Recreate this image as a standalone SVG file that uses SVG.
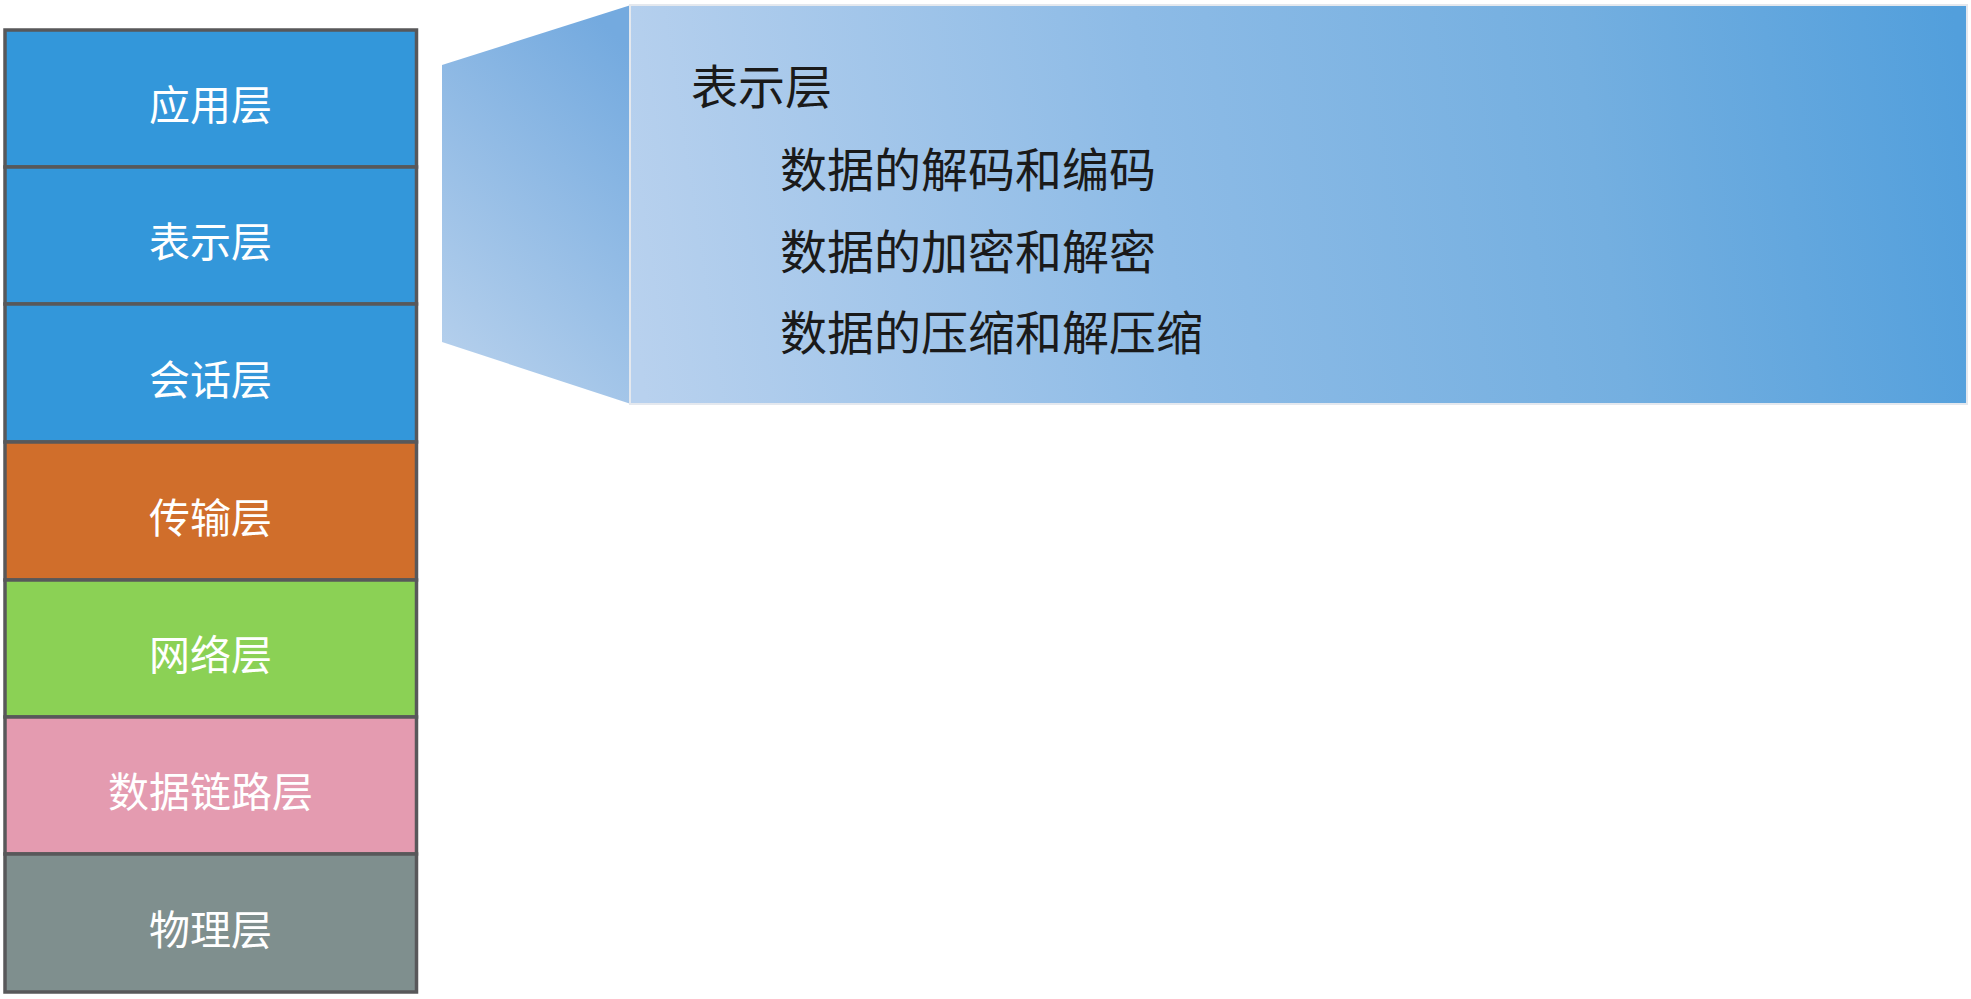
<svg xmlns="http://www.w3.org/2000/svg" width="1971" height="999" viewBox="0 0 1971 999">
<style>
.layer{stroke:#58585a;stroke-width:3.5}
.lbl{font-family:"Liberation Sans","Noto Sans CJK SC",sans-serif;font-size:41px;fill:#ffffff;text-anchor:middle}
.ct{font-family:"Liberation Sans","Noto Sans CJK SC",sans-serif;font-size:47px;fill:#1a1a1a}
</style>
<defs>
<linearGradient id="gBox" gradientUnits="userSpaceOnUse" x1="630" y1="300" x2="1967" y2="100">
<stop offset="0" stop-color="#b8d1ee"/>
<stop offset="0.4" stop-color="#8dbbe6"/>
<stop offset="0.72" stop-color="#74afe0"/>
<stop offset="1" stop-color="#529fdc"/>
</linearGradient>
<linearGradient id="gSide" x1="0.75" y1="0" x2="0.3" y2="1">
<stop offset="0" stop-color="#74aadf"/>
<stop offset="1" stop-color="#b4cfec"/>
</linearGradient>
</defs>
<rect width="1971" height="999" fill="#ffffff"/>
<g id="connectors">
<polygon points="442,65 631,5 631,404 442,342" fill="url(#gSide)"/>
</g>
<g id="presentation-detail">
<rect x="630" y="5" width="1337" height="399" fill="url(#gBox)" stroke="#e4e8ee" stroke-width="2"/>
<text class="ct" x="691" y="104">表示层</text>
<text class="ct" x="780" y="187">数据的解码和编码</text>
<text class="ct" x="780" y="269">数据的加密和解密</text>
<text class="ct" x="780" y="350">数据的压缩和解压缩</text>
</g>
<g id="application">
<rect class="layer" x="5" y="30" width="411.5" height="137" fill="#3397da"/>
<text class="lbl" x="210.5" y="120">应用层</text>
</g>
<g id="presentation">
<rect class="layer" x="5" y="167" width="411.5" height="137" fill="#3397da"/>
<text class="lbl" x="210.5" y="257">表示层</text>
</g>
<g id="session">
<rect class="layer" x="5" y="304" width="411.5" height="138" fill="#3397da"/>
<text class="lbl" x="210.5" y="394.5">会话层</text>
</g>
<g id="transport">
<rect class="layer" x="5" y="442" width="411.5" height="138" fill="#d06e2b"/>
<text class="lbl" x="210.5" y="532.5">传输层</text>
</g>
<g id="network">
<rect class="layer" x="5" y="580" width="411.5" height="137" fill="#8bd155"/>
<text class="lbl" x="210.5" y="670">网络层</text>
</g>
<g id="datalink">
<rect class="layer" x="5" y="717" width="411.5" height="137" fill="#e49bb0"/>
<text class="lbl" x="210.5" y="807">数据链路层</text>
</g>
<g id="physical">
<rect class="layer" x="5" y="854" width="411.5" height="138" fill="#7f8f8e"/>
<text class="lbl" x="210.5" y="944.5">物理层</text>
</g>
</svg>
